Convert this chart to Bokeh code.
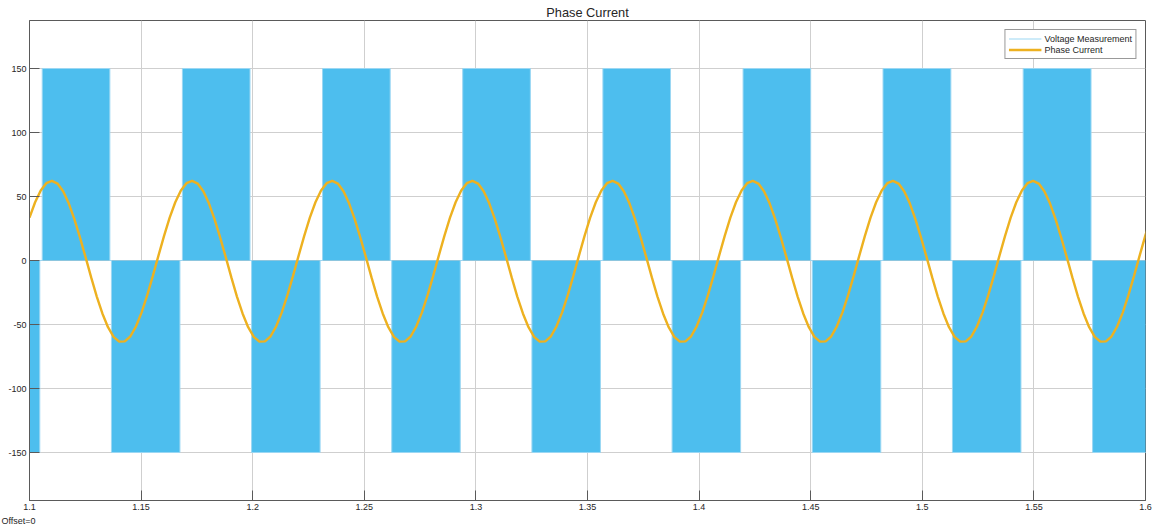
import numpy as np
from bokeh.plotting import figure
from bokeh.models import (ColumnDataSource, Range1d, FixedTicker,
                          Legend, LegendItem, Title)
from bokeh.embed import file_html
from bokeh.resources import INLINE

# ---------------- data ----------------
x_ticks = [1.1, 1.15, 1.2, 1.25, 1.3, 1.35, 1.4, 1.45, 1.5, 1.55, 1.6]
x_tick_labels = ["1.1", "1.15", "1.2", "1.25", "1.3", "1.35", "1.4", "1.45", "1.5", "1.55", "1.6"]
y_ticks = [-150, -100, -50, 0, 50, 100, 150]
y_tick_labels = ["-150", "-100", "-50", "0", "50", "100", "150"]

# Voltage Measurement: switching blocks (+150 / -150)
voltage_high = 150
voltage_low = -150
pos_start = [1.1057, 1.1685, 1.2313, 1.2941, 1.3569, 1.4197, 1.4824, 1.5452]
pos_end = [1.1360, 1.1988, 1.2616, 1.3244, 1.3872, 1.4500, 1.5128, 1.5756]
neg_start = [1.0939, 1.1367, 1.1995, 1.2623, 1.3251, 1.3879, 1.4507, 1.5135, 1.5763]
neg_end = [1.1046, 1.1674, 1.2302, 1.2930, 1.3558, 1.4186, 1.4814, 1.5442, 1.6069]

# Phase Current samples, sample time base
current_t0 = 1.1
current_dt = 0.002512
phase_current = [
    33.5, 45.5, 54.7, 60.4, 62.2, 60.1, 54.1, 44.7, 32.4, 18.1, 2.6, -13.2, -28.2, -41.4, -52.1, -59.6, -63.4, -63.2, -59.2, -51.4, -40.5, -27.1, -12.0, 3.8, 19.2,
    33.5, 45.5, 54.7, 60.4, 62.2, 60.1, 54.1, 44.7, 32.4, 18.1, 2.6, -13.2, -28.2, -41.4, -52.1, -59.6, -63.4, -63.2, -59.2, -51.4, -40.5, -27.1, -12.0, 3.8, 19.2,
    33.5, 45.5, 54.7, 60.4, 62.2, 60.1, 54.1, 44.7, 32.4, 18.1, 2.6, -13.2, -28.2, -41.4, -52.1, -59.6, -63.4, -63.2, -59.2, -51.4, -40.5, -27.1, -12.0, 3.8, 19.2,
    33.5, 45.5, 54.7, 60.4, 62.2, 60.1, 54.1, 44.7, 32.4, 18.1, 2.6, -13.2, -28.2, -41.4, -52.1, -59.6, -63.4, -63.2, -59.2, -51.4, -40.5, -27.1, -12.0, 3.8, 19.2,
    33.5, 45.5, 54.7, 60.4, 62.2, 60.1, 54.1, 44.7, 32.4, 18.1, 2.6, -13.2, -28.2, -41.4, -52.1, -59.6, -63.4, -63.2, -59.2, -51.4, -40.5, -27.1, -12.0, 3.8, 19.2,
    33.5, 45.5, 54.7, 60.4, 62.2, 60.1, 54.1, 44.7, 32.4, 18.1, 2.6, -13.2, -28.2, -41.4, -52.1, -59.6, -63.4, -63.2, -59.2, -51.4, -40.5, -27.1, -12.0, 3.8, 19.2,
    33.5, 45.5, 54.7, 60.4, 62.2, 60.1, 54.1, 44.7, 32.4, 18.1, 2.6, -13.2, -28.2, -41.4, -52.1, -59.6, -63.4, -63.2, -59.2, -51.4, -40.5, -27.1, -12.0, 3.8, 19.2,
    33.5, 45.5, 54.7, 60.4, 62.2, 60.1, 54.1, 44.7, 32.4, 18.1, 2.6, -13.2, -28.2, -41.4, -52.1, -59.6, -63.4, -63.2, -59.2, -51.4, -40.5, -27.1, -12.0, 3.8, 19.2,
    33.5,
]

# ---------------- build sources ----------------
starts = pos_start + neg_start
ends = pos_end + neg_end
levels = [voltage_high] * len(pos_start) + [voltage_low] * len(neg_start)
order = np.argsort(starts)
starts = [starts[i] for i in order]
ends = [ends[i] for i in order]
levels = [levels[i] for i in order]

block_src = ColumnDataSource(dict(left=starts, right=ends, top=levels, bottom=[0] * len(levels)))

vx, vy = [], []
for s, e, lv in zip(starts, ends, levels):
    vx += [s, s, e, e]
    vy += [0, lv, lv, 0]
volt_src = ColumnDataSource(dict(x=vx, y=vy))

t = current_t0 + current_dt * np.arange(len(phase_current))
cur_src = ColumnDataSource(dict(x=t, y=phase_current))

# ---------------- figure ----------------
FONT = "Liberation Sans"
AX_COLOR = "#5a5a5a"
TXT_COLOR = "#262626"

p = figure(width=1154, height=529,
           x_range=Range1d(1.1, 1.6), y_range=Range1d(-187.5, 187.5),
           output_backend="svg", toolbar_location=None,
           min_border_left=29, min_border_right=9, min_border_top=20, min_border_bottom=29,
           background_fill_color="white", border_fill_color="white")

p.title.text = "Phase Current"
p.title.align = "center"
p.title.text_font = FONT
p.title.text_font_size = "12.8px"
p.title.text_font_style = "normal"
p.title.text_color = TXT_COLOR
p.title.standoff = 1
p.outline_line_color = AX_COLOR
p.outline_line_width = 1

def style_axis(ax, ticks, labels, standoff):
    ax.ticker = FixedTicker(ticks=ticks)
    ax.major_label_overrides = {tk: lb for tk, lb in zip(ticks, labels)}
    ax.axis_line_color = AX_COLOR
    ax.axis_line_width = 1
    ax.major_tick_line_color = AX_COLOR
    ax.major_tick_in = 10
    ax.major_tick_out = 0
    ax.minor_tick_in = 0
    ax.minor_tick_out = 0
    ax.major_label_text_font = FONT
    ax.major_label_text_color = TXT_COLOR
    ax.major_label_standoff = standoff
    ax.major_label_text_font_size = "9px"

style_axis(p.xaxis[0], x_ticks, x_tick_labels, 3)
style_axis(p.yaxis[0], y_ticks, y_tick_labels, 3)

p.xgrid.ticker = FixedTicker(ticks=x_ticks)
p.ygrid.ticker = FixedTicker(ticks=y_ticks)
for g in (p.xgrid[0], p.ygrid[0]):
    g.grid_line_color = "#cfcfcf"
    g.grid_line_width = 1

# glyphs
p.quad(left="left", right="right", top="top", bottom="bottom", source=block_src,
       fill_color="#4DBEEE", line_color=None)
vline = p.line("x", "y", source=volt_src, line_color="#9bd7f3", line_width=1)
cline = p.line("x", "y", source=cur_src, line_color="#EDB120", line_width=2.4)

legend = Legend(items=[LegendItem(label="Voltage Measurement", renderers=[vline]),
                       LegendItem(label="Phase Current", renderers=[cline])],
                location="top_right", margin=9, padding=3, spacing=0,
                glyph_width=33, glyph_height=11, label_height=11, label_standoff=3,
                label_text_font=FONT, label_text_font_size="9px", label_text_color=TXT_COLOR,
                border_line_color="#333333", border_line_width=1,
                background_fill_color="white", background_fill_alpha=1.0)
p.add_layout(legend)

offset_title = Title(text="Offset=0", align="left", text_font=FONT, text_font_size="9px",
                     text_font_style="normal", text_color=TXT_COLOR, offset=-28, standoff=2)
p.add_layout(offset_title, "below")

open("out.html", "w").write(file_html(p, INLINE))
